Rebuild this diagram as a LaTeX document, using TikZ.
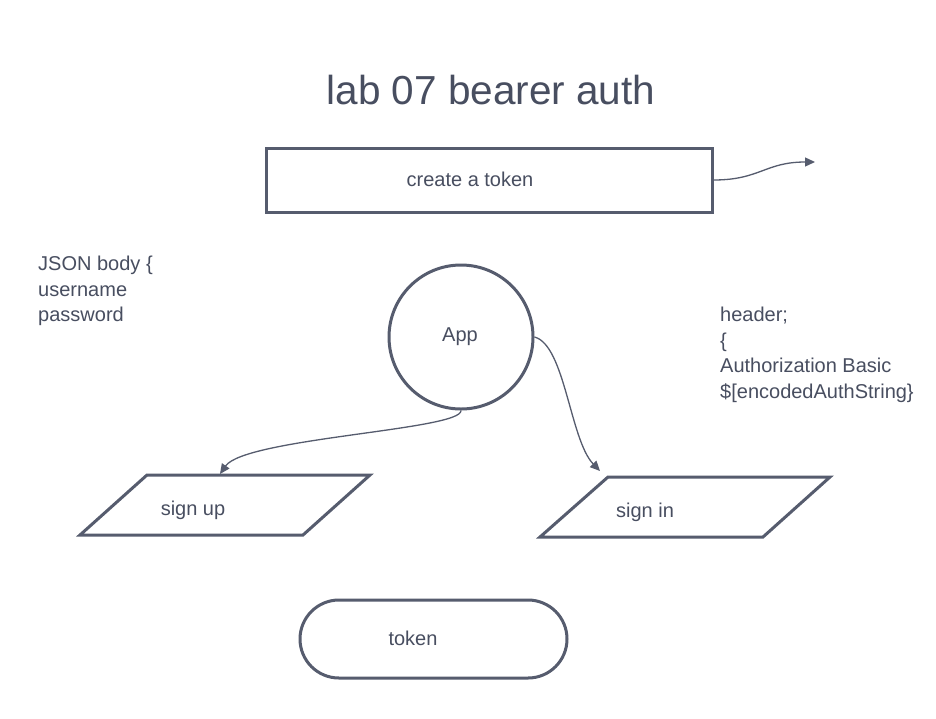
\documentclass[tikz,border=0pt]{standalone}
\usepackage{fontspec}
\setmainfont{Liberation Sans}
\usetikzlibrary{arrows.meta}
\definecolor{ink}{RGB}{86,92,110}
\definecolor{txt}{RGB}{72,78,96}
\begin{document}
\begin{tikzpicture}[x=1pt,y=-1pt,
  shape line/.style={draw=ink,line width=3pt},
  conn/.style={draw=ink,line width=1.3pt,-{Triangle[length=10pt,width=9pt]}},
  label/.style={text=txt,font=\fontsize{20}{25.5}\selectfont,inner sep=0pt},
  note/.style={label,anchor=north west,align=left}]
\useasboundingbox[fill=white] (0,0) rectangle (936,718);
\node[text=txt,font=\fontsize{40.5}{45}\selectfont,inner sep=0pt] (title) at (491,90) {lab 07 bearer auth};
\node[shape line,rectangle,minimum width=446pt,minimum height=64pt,inner sep=0pt] (create) at (489,180) {};
\node[label] (createtxt) at (470,179) {create a token};
\coordinate (createout) at (815,162);
\draw[conn] (create.east) .. controls (760,180) and (765,162) .. (createout);
\node[shape line,circle,minimum size=144pt,inner sep=0pt] (app) at (461,337) {};
\node[label] (apptxt) at (460,337) {App};
% sign up parallelogram
\draw[shape line,line join=miter] (147,475) -- (370,475) -- (303,535) -- (80,535) -- cycle;
\node[label] (signup) at (193,510) {sign up};
\coordinate (signuptip) at (220,474);
% sign in parallelogram
\draw[shape line,line join=miter] (608,477) -- (830,477) -- (763,537) -- (540,537) -- cycle;
\node[label] (signin) at (645,512) {sign in};
\coordinate (signintip) at (600,471);
\draw[conn] (app.south) .. controls (462,430) and (245,438) .. (signuptip);
\draw[conn] (app.east) .. controls (565,345) and (570,440) .. (signintip);
% token stadium
\node[shape line,rectangle,rounded corners=39pt,minimum width=267pt,minimum height=78pt,inner sep=0pt] (token) at (433.5,639) {};
\node[label] (tokentxt) at (413,638) {token};
\node[note] (json) at (38,256) {JSON body \{\\username\\password};
\node[note] (header) at (720,307) {header;\\\{\\Authorization Basic\\\$[encodedAuthString\}};
\end{tikzpicture}
\end{document}
